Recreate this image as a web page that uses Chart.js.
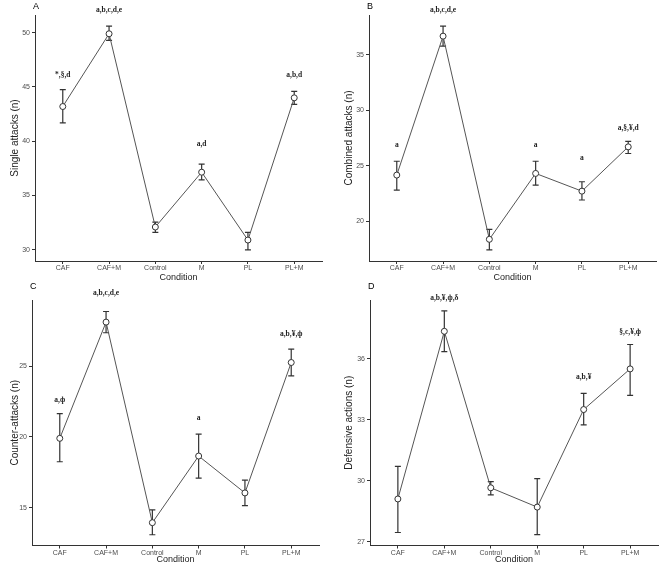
<!DOCTYPE html>
<html>
<head>
<meta charset="utf-8">
<script src="https://cdn.jsdelivr.net/npm/chart.js@4"></script>
<style>
html, body { margin: 0; padding: 0; background: #fff; overflow: hidden; }
#wrap { position: relative; width: 668px; height: 563px; overflow: hidden; }
canvas { position: absolute; }
</style>
</head>
<body>
<div id="wrap">
  <canvas id="chartA" width="334" height="282" style="left:0;top:0"></canvas>
  <canvas id="chartB" width="334" height="282" style="left:334px;top:0"></canvas>
  <canvas id="chartC" width="334" height="284" style="left:0;top:280px"></canvas>
  <canvas id="chartD" width="334" height="284" style="left:334px;top:280px"></canvas>
</div>
<script>
const conditions = ['CAF', 'CAF+M', 'Control', 'M', 'PL', 'PL+M'];

// A - single attacks
const singleMean = [43.2, 49.9, 32.1, 37.15, 30.9, 44.0];
const singleLow = [41.7, 49.3, 31.6, 36.45, 30.0, 43.4];
const singleHigh = [44.75, 50.6, 32.55, 37.9, 31.6, 44.6];
const singleNotes = ['*,§,d', 'a,b,c,d,e', '', 'a,d', '', 'a,b,d'];
const singleNoteAt = [46.1, 52.1, null, 39.7, null, 46.1];
const singleTicks = [30, 35, 40, 45, 50];

// B - combined attacks
const combinedMean = [24.15, 36.7, 18.35, 24.3, 22.7, 26.7];
const combinedLow = [22.8, 35.8, 17.4, 23.25, 21.9, 26.1];
const combinedHigh = [25.4, 37.6, 19.25, 25.4, 23.55, 27.2];
const combinedNotes = ['a', 'a,b,c,d,e', '', 'a', 'a', 'a,§,¥,d'];
const combinedNoteAt = [26.85, 39.1, null, 26.85, 25.7, 28.4];
const combinedTicks = [20, 25, 30, 35];

// C - counter-attacks
const counterMean = [19.9, 28.1, 13.95, 18.65, 16.05, 25.25];
const counterLow = [18.25, 27.35, 13.1, 17.1, 15.15, 24.3];
const counterHigh = [21.65, 28.85, 14.85, 20.2, 16.95, 26.2];
const counterNotes = ['a,ф', 'a,b,c,d,e', '', 'a', '', 'a,b,¥,ф'];
const counterNoteAt = [22.6, 30.15, null, 21.35, null, 27.25];
const counterTicks = [15, 20, 25];

// D - defensive actions
const defensiveMean = [29.1, 37.35, 29.65, 28.7, 33.5, 35.5];
const defensiveLow = [27.45, 36.35, 29.3, 27.35, 32.75, 34.2];
const defensiveHigh = [30.7, 38.35, 29.95, 30.1, 34.3, 36.7];
const defensiveNotes = ['', 'a,b,¥,ф,δ', '', '', 'a,b,¥', '§,c,¥,ф'];
const defensiveNoteAt = [null, 38.98, null, null, 35.1, 37.3];
const defensiveTicks = [27, 30, 33, 36];

const errorBars = {
    id: 'errorBars',
    beforeDatasetsDraw(chart, args, opts) {
        const { ctx, scales: { x, y } } = chart;
        ctx.save();
        ctx.strokeStyle = '#333';
        ctx.lineWidth = 1.2;
        opts.low.forEach((lo, i) => {
            const px = x.getPixelForValue(i + 1);
            const top = y.getPixelForValue(opts.high[i]);
            const bot = y.getPixelForValue(lo);
            ctx.beginPath();
            ctx.moveTo(px, top); ctx.lineTo(px, bot);
            ctx.moveTo(px - 3, top); ctx.lineTo(px + 3, top);
            ctx.moveTo(px - 3, bot); ctx.lineTo(px + 3, bot);
            ctx.stroke();
        });
        ctx.restore();
    },
};

const notesPlugin = {
    id: 'notes',
    afterDraw(chart, args, opts) {
        const { ctx, scales: { x, y } } = chart;
        ctx.save();
        ctx.fillStyle = '#222';
        ctx.textAlign = 'center';
        ctx.textBaseline = 'middle';
        ctx.font = 'bold 7.5px "Liberation Serif"';
        opts.notes.forEach((txt, i) => {
            if (!txt) return;
            ctx.fillText(txt, x.getPixelForValue(i + 1), y.getPixelForValue(opts.at[i]));
        });
        ctx.font = '9px "Liberation Sans"';
        ctx.textAlign = 'left';
        ctx.fillStyle = '#000';
        ctx.fillText(opts.letter, opts.letterX, opts.letterY);
        ctx.restore();
    },
};

function makeChart(id, cfg) {
    const points = cfg.mean.map((v, i) => ({ x: i + 1, y: v }));
    return new Chart(document.getElementById(id), {
        type: 'line',
        data: {
            datasets: [{
                data: points,
                borderColor: '#555',
                borderWidth: 1,
                pointRadius: 3,
                pointBackgroundColor: '#fff',
                pointBorderColor: '#333',
                pointBorderWidth: 1,
                tension: 0,
            }],
        },
        options: {
            responsive: false,
            animation: false,
            layout: { padding: { top: cfg.top, right: cfg.right, left: 0, bottom: 0 } },
            plugins: {
                legend: { display: false },
                tooltip: { enabled: false },
                errorBars: { low: cfg.low, high: cfg.high },
                notes: { notes: cfg.notes, at: cfg.noteAt, letter: cfg.letter, letterX: cfg.left - 2, letterY: 7 },
            },
            scales: {
                x: {
                    type: 'linear',
                    min: 0.4,
                    max: 6.6,
                    afterBuildTicks: (s) => { s.ticks = conditions.map((c, i) => ({ value: i + 1 })); },
                    afterFit: (s) => { s.height = cfg.xHeight; },
                    grid: { drawOnChartArea: false, drawTicks: true, tickLength: 3, color: '#333' },
                    border: { display: true, color: '#333', width: 1 },
                    ticks: {
                        autoSkip: false,
                        maxRotation: 0,
                        padding: 0,
                        color: '#4d4d4d',
                        font: { family: 'Liberation Sans', size: 7 },
                        callback: (v) => conditions[v - 1],
                    },
                    title: {
                        display: true,
                        text: 'Condition',
                        color: '#222',
                        padding: { top: 0, bottom: 0 },
                        font: { family: 'Liberation Sans', size: 9, lineHeight: 1 },
                    },
                },
                y: {
                    min: cfg.yMin,
                    max: cfg.yMax,
                    afterBuildTicks: (s) => { s.ticks = cfg.ticks.map((v) => ({ value: v })); },
                    afterFit: (s) => { s.width = cfg.left; },
                    grid: { drawOnChartArea: false, drawTicks: true, tickLength: 3, color: '#333' },
                    border: { display: true, color: '#333', width: 1 },
                    ticks: {
                        padding: 2,
                        color: '#4d4d4d',
                        font: { family: 'Liberation Sans', size: 7 },
                    },
                    title: {
                        display: true,
                        text: cfg.title,
                        color: '#222',
                        padding: { top: 9, bottom: 0 },
                        font: { family: 'Liberation Sans', size: 10, lineHeight: 1.2 },
                    },
                },
            },
        },
        plugins: [errorBars, notesPlugin],
    });
}

makeChart('chartA', {
    mean: singleMean, low: singleLow, high: singleHigh, notes: singleNotes, noteAt: singleNoteAt,
    ticks: singleTicks, yMin: 28.97, yMax: 51.63, title: 'Single attacks (n)', letter: 'A',
    left: 35, top: 15, right: 12, xHeight: 21,
});
makeChart('chartB', {
    mean: combinedMean, low: combinedLow, high: combinedHigh, notes: combinedNotes, noteAt: combinedNoteAt,
    ticks: combinedTicks, yMin: 16.39, yMax: 38.61, title: 'Combined attacks (n)', letter: 'B',
    left: 35, top: 15, right: 12, xHeight: 21,
});
makeChart('chartC', {
    mean: counterMean, low: counterLow, high: counterHigh, notes: counterNotes, noteAt: counterNoteAt,
    ticks: counterTicks, yMin: 12.34, yMax: 29.66, title: 'Counter-attacks (n)', letter: 'C',
    left: 32, top: 20, right: 15, xHeight: 18.5,
});
makeChart('chartD', {
    mean: defensiveMean, low: defensiveLow, high: defensiveHigh, notes: defensiveNotes, noteAt: defensiveNoteAt,
    ticks: defensiveTicks, yMin: 26.81, yMax: 38.89, title: 'Defensive actions (n)', letter: 'D',
    left: 36, top: 20, right: 10, xHeight: 18.5,
});
</script>
</body>
</html>
